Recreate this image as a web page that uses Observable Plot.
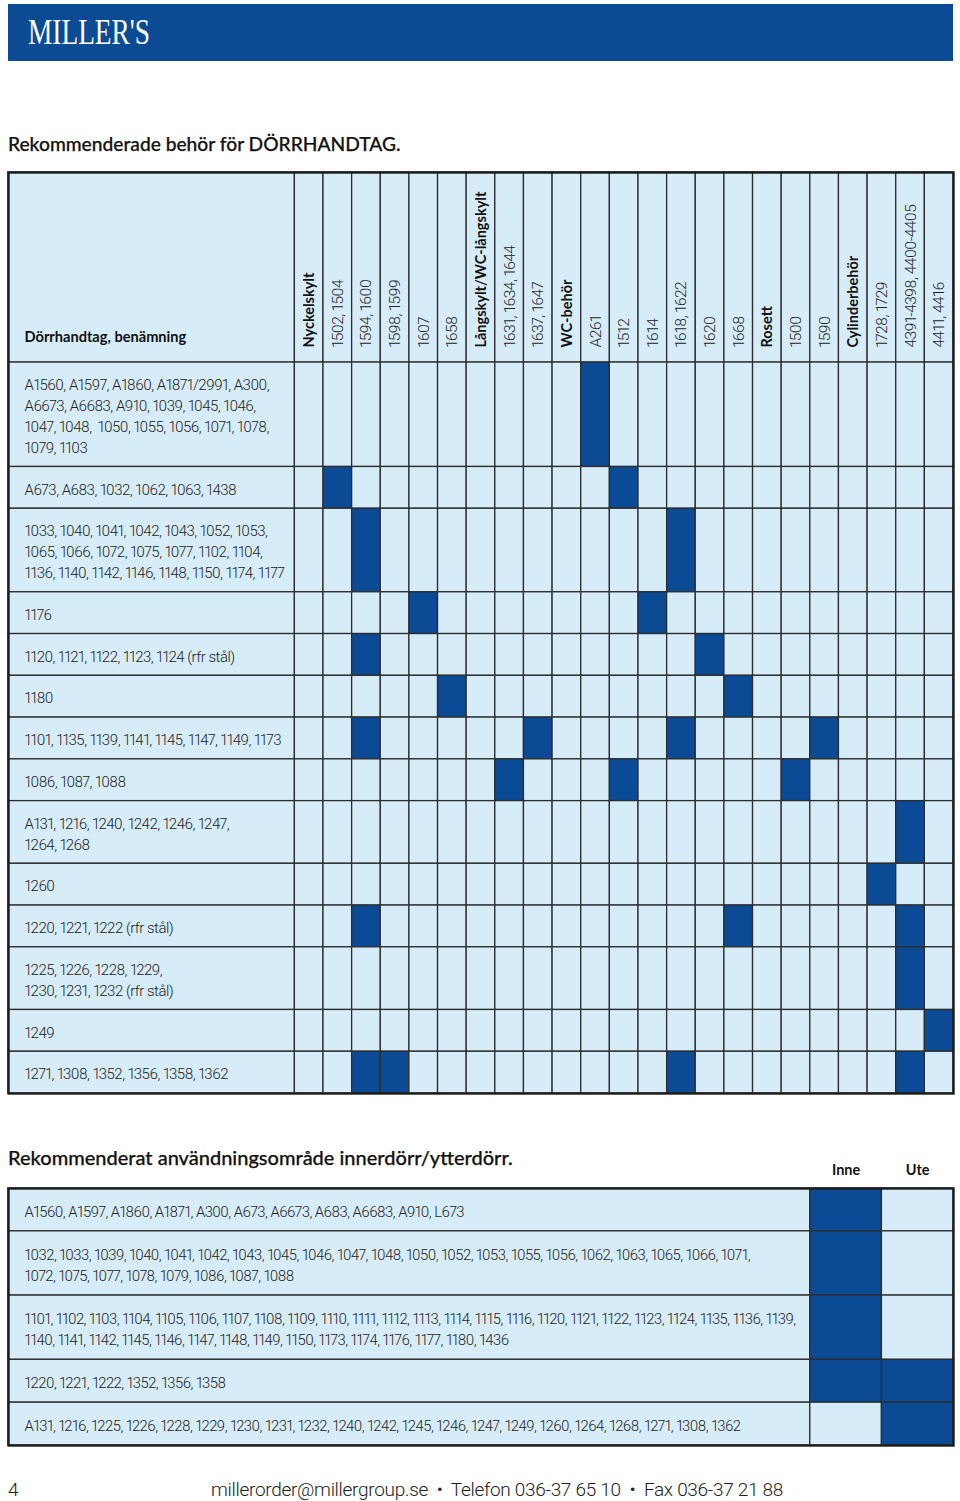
<!DOCTYPE html>
<html>
<head>
<meta charset="utf-8">
<script src="https://cdn.jsdelivr.net/npm/d3@7"></script>
<script src="https://cdn.jsdelivr.net/npm/@observablehq/plot@0.6"></script>
<style>
  body { margin: 0; background: #fff; }
  #page { position: relative; width: 960px; height: 1501px; overflow: hidden; }
  .abs { position: absolute; white-space: pre; }
  #bar { left: 8px; top: 4px; width: 945px; height: 57px; background: #0a4b94; }
  #brand { left: 28px; top: 14px; font-family: "Liberation Serif", serif; font-size: 36px; line-height: 36px; color: #fff; transform: scaleX(0.76); transform-origin: left center; }
  .title { left: 8px; font-family: Lato, "Open Sans", sans-serif; font-size: 19.2px; line-height: 20px; color: #111; font-weight: 500; -webkit-text-stroke: 0.25px #111; }
  #title1 { top: 134px; }
  #title2 { top: 1147px; font-size: 20px; }
  .foot { font-family: Roboto, sans-serif; font-weight: 300; font-size: 19px; line-height: 19px; color: #222; top: 1480px; letter-spacing: -0.3px; }
  #pageno { left: 8px; }
  #contact { left: 211px; }
  #t1 { left: 0; top: 165px; }
  #t2 { left: 0; top: 1150px; }
  g[font-family^="Roboto"] text { letter-spacing: -0.5px; font-variant-numeric: proportional-nums; font-feature-settings: "pnum" 1; }
</style>
</head>
<body>
<div id="page">
  <div id="bar" class="abs"></div>
  <div id="brand" class="abs">MILLER'S</div>
  <div id="title1" class="abs title">Rekommenderade behör för DÖRRHANDTAG.</div>
  <div id="t1" class="abs"></div>
  <div id="title2" class="abs title">Rekommenderat användningsområde innerdörr/ytterdörr.</div>
  <div id="t2" class="abs"></div>
  <div id="pageno" class="abs foot">4</div>
  <div id="contact" class="abs foot">millerorder@millergroup.se  •  Telefon 036-37 65 10  •  Fax 036-37 21 88</div>
</div>
<script>
// ---------- DATA ----------
const labelHeader = "Dörrhandtag, benämning";
const columnLabels = [
  "Nyckelskylt", "1502, 1504", "1594, 1600", "1598, 1599", "1607", "1658",
  "Långskylt/WC-långskylt", "1631, 1634, 1644", "1637, 1647",
  "WC-behör", "A261", "1512", "1614", "1618, 1622", "1620", "1668",
  "Rosett", "1500", "1590",
  "Cylinderbehör", "1728, 1729", "4391-4398, 4400-4405", "4411, 4416"
];
const groupHeaders = ["Nyckelskylt", "Långskylt/WC-långskylt", "WC-behör", "Rosett", "Cylinderbehör"];

const handleRows = [
  ["A1560, A1597, A1860, A1871/2991, A300,", "A6673, A6683, A910, 1039, 1045, 1046,", "1047, 1048,  1050, 1055, 1056, 1071, 1078,", "1079, 1103"],
  ["A673, A683, 1032, 1062, 1063, 1438"],
  ["1033, 1040, 1041, 1042, 1043, 1052, 1053,", "1065, 1066, 1072, 1075, 1077, 1102, 1104,", "1136, 1140, 1142, 1146, 1148, 1150, 1174, 1177"],
  ["1176"],
  ["1120, 1121, 1122, 1123, 1124 (rfr stål)"],
  ["1180"],
  ["1101, 1135, 1139, 1141, 1145, 1147, 1149, 1173"],
  ["1086, 1087, 1088"],
  ["A131, 1216, 1240, 1242, 1246, 1247,", "1264, 1268"],
  ["1260"],
  ["1220, 1221, 1222 (rfr stål)"],
  ["1225, 1226, 1228, 1229,", "1230, 1231, 1232 (rfr stål)"],
  ["1249"],
  ["1271, 1308, 1352, 1356, 1358, 1362"]
];
const handleMatches = [
  ["A261"],
  ["1502, 1504", "1512"],
  ["1594, 1600", "1618, 1622"],
  ["1607", "1614"],
  ["1594, 1600", "1620"],
  ["1658", "1668"],
  ["1594, 1600", "1637, 1647", "1618, 1622", "1590"],
  ["1631, 1634, 1644", "1512", "1500"],
  ["4391-4398, 4400-4405"],
  ["1728, 1729"],
  ["1594, 1600", "1668", "4391-4398, 4400-4405"],
  ["4391-4398, 4400-4405"],
  ["4411, 4416"],
  ["1594, 1600", "1598, 1599", "1618, 1622", "4391-4398, 4400-4405"]
];

const usageColumns = ["Inne", "Ute"];
const usageRows = [
  ["A1560, A1597, A1860, A1871, A300, A673, A6673, A683, A6683, A910, L673"],
  ["1032, 1033, 1039, 1040, 1041, 1042, 1043, 1045, 1046, 1047, 1048, 1050, 1052, 1053, 1055, 1056, 1062, 1063, 1065, 1066, 1071,", "1072, 1075, 1077, 1078, 1079, 1086, 1087, 1088"],
  ["1101, 1102, 1103, 1104, 1105, 1106, 1107, 1108, 1109, 1110, 1111, 1112, 1113, 1114, 1115, 1116, 1120, 1121, 1122, 1123, 1124, 1135, 1136, 1139,", "1140, 1141, 1142, 1145, 1146, 1147, 1148, 1149, 1150, 1173, 1174, 1176, 1177, 1180, 1436"],
  ["1220, 1221, 1222, 1352, 1356, 1358"],
  ["A131, 1216, 1225, 1226, 1228, 1229, 1230, 1231, 1232, 1240, 1242, 1245, 1246, 1247, 1249, 1260, 1264, 1268, 1271, 1308, 1362"]
];
const usageMatches = [["Inne"], ["Inne"], ["Inne"], ["Inne", "Ute"], ["Ute"]];

// ---------- STYLE ----------
const DARK = "#0b4a94";
const LIGHT = "#d7ecf9";
const GRID = "#2d2d2d";
const NARROW = "Roboto, sans-serif";
const BOLD = "Lato, 'Open Sans', sans-serif";

// ---------- TABLE 1 ----------
const HEAD = 9.1;     // header height in row units
const LABEL_W = 10;   // label column width in column units
let acc = HEAD;
const rows1 = handleRows.map((lines, i) => {
  const y1 = acc; acc += lines.length + 1;
  return {i, lines, y1, y2: acc};
});
const total1 = acc;
const cells1 = [{x1: -LABEL_W, x2: 0, y1: 0, y2: HEAD, on: false}];
columnLabels.forEach((c, j) => cells1.push({x1: j, x2: j + 1, y1: 0, y2: HEAD, on: false}));
rows1.forEach(r => {
  cells1.push({x1: -LABEL_W, x2: 0, y1: r.y1, y2: r.y2, on: false});
  columnLabels.forEach((c, j) => cells1.push({x1: j, x2: j + 1, y1: r.y1, y2: r.y2, on: handleMatches[r.i].includes(c)}));
});
const colInfo = columnLabels.map((c, j) => ({c, j, group: groupHeaders.includes(c)}));

const H1 = 935, MT1 = 7, MB1 = 7;
const plot1 = Plot.plot({
  width: 960, height: H1,
  marginTop: MT1, marginBottom: MB1, marginLeft: 8, marginRight: 7,
  x: {type: "linear", domain: [-LABEL_W, columnLabels.length], axis: null},
  y: {type: "linear", domain: [0, total1], range: [MT1, H1 - MB1], axis: null},
  style: {background: "transparent"},
  marks: [
    Plot.rect(cells1, {x1: "x1", x2: "x2", y1: "y1", y2: "y2", fill: d => d.on ? DARK : LIGHT, stroke: GRID, strokeWidth: 1.3}),
    Plot.frame({stroke: "#1c1c1c", strokeWidth: 2.4}),
    Plot.text(rows1, {x: -LABEL_W, y: d => (d.y1 + d.y2) / 2, text: d => d.lines.join("\n"), textAnchor: "start", dx: 16, lineHeight: 1.4, fontSize: 15, fontWeight: 300, fill: "#222", fontFamily: NARROW}),
    Plot.text(colInfo.filter(d => !d.group), {x: d => d.j + 0.5, y: HEAD, text: "c", rotate: -90, textAnchor: "start", dy: -15, fontSize: 15.5, fontWeight: 300, fill: "#222", fontFamily: NARROW}),
    Plot.text(colInfo.filter(d => d.group), {x: d => d.j + 0.5, y: HEAD, text: "c", rotate: -90, textAnchor: "start", dy: -15, fontSize: 14.5, fontWeight: 700, fill: "#111", fontFamily: BOLD}),
    Plot.text([labelHeader], {x: -LABEL_W, y: HEAD, text: d => d, textAnchor: "start", dx: 16, dy: -25, fontSize: 14.6, fontWeight: 700, fill: "#111", fontFamily: BOLD})
  ]
});
document.getElementById("t1").append(plot1);

// ---------- TABLE 2 ----------
const LABEL_W2 = 11.2;
let acc2 = 0;
const rows2 = usageRows.map((lines, i) => {
  const y1 = acc2; acc2 += lines.length + 1;
  return {i, lines, y1, y2: acc2};
});
const total2 = acc2;
const cells2 = [];
rows2.forEach(r => {
  cells2.push({x1: -LABEL_W2, x2: 0, y1: r.y1, y2: r.y2, on: false});
  usageColumns.forEach((c, j) => cells2.push({x1: j, x2: j + 1, y1: r.y1, y2: r.y2, on: usageMatches[r.i].includes(c)}));
});
const H2 = 298, MT2 = 38, MB2 = 3;
const plot2 = Plot.plot({
  width: 960, height: H2,
  marginTop: MT2, marginBottom: MB2, marginLeft: 8, marginRight: 7,
  x: {type: "linear", domain: [-LABEL_W2, usageColumns.length], axis: null},
  y: {type: "linear", domain: [0, total2], range: [MT2, H2 - MB2], axis: null},
  style: {background: "transparent", overflow: "visible"},
  marks: [
    Plot.rect(cells2, {x1: "x1", x2: "x2", y1: "y1", y2: "y2", fill: d => d.on ? DARK : LIGHT, stroke: GRID, strokeWidth: 1.3}),
    Plot.frame({stroke: "#1c1c1c", strokeWidth: 2.4}),
    Plot.text(rows2, {x: -LABEL_W2, y: d => (d.y1 + d.y2) / 2, text: d => d.lines.join("\n"), textAnchor: "start", dx: 16, lineHeight: 1.42, fontSize: 14.8, fontWeight: 300, fill: "#222", fontFamily: NARROW}),
    Plot.text(usageColumns, {x: (d, j) => j + 0.5, y: 0, text: d => d, dy: -18, fontSize: 14.5, fontWeight: 700, fill: "#111", fontFamily: BOLD})
  ]
});
document.getElementById("t2").append(plot2);
</script>
</body>
</html>
